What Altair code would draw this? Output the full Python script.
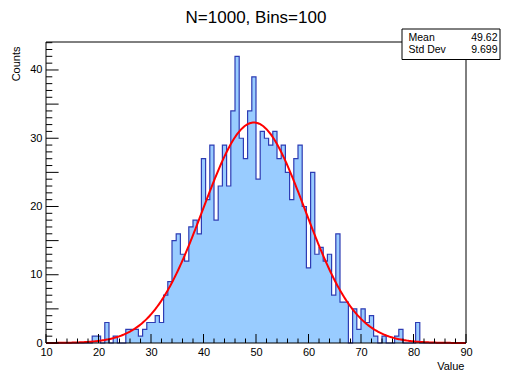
import altair as alt
import pandas as pd

# ---- data ----
X_MIN, X_MAX, N_BINS = 10, 90, 100
counts = (
    [0] * 11
    + [1, 1, 0, 3, 0, 1, 0, 0]
    + [2, 2, 2, 1, 2, 3, 3, 4, 3, 7]
    + [9, 15, 16, 13, 12, 17, 18, 16, 27, 21]
    + [29, 18, 23, 29, 23, 34, 42, 30, 27, 34]
    + [39, 24, 31, 30, 29, 31, 27, 29, 25, 21]
    + [27, 29, 20, 11, 25, 13, 14, 12, 13, 7]
    + [16, 6, 6, 0, 5, 2, 5, 3, 4, 1]
    + [0, 1, 0, 0, 1, 2, 0, 0, 0, 3]
    + [0] * 11
)
Y_MAX = 44.1
x_major = [10, 20, 30, 40, 50, 60, 70, 80, 90]
x_minor = [v for v in range(12, 90, 2) if v % 10 != 0]
y_major = [0, 5, 10, 15, 20, 25, 30, 35, 40]
y_minor = [v for v in range(1, 45) if v % 5 != 0]
fit_const, fit_mean, fit_sigma = 32.3, 49.6, 9.7
stat_names = ["Mean", "Std Dev"]
stat_values = ["49.62", "9.699"]
title_text = "N=1000, Bins=100"
x_title, y_title = "Value", "Counts"

# ---- build tables ----
bw = (X_MAX - X_MIN) / N_BINS
edges = [X_MIN + i * bw for i in range(N_BINS)]
step_df = pd.DataFrame({"x": edges + [X_MAX], "c": counts + [counts[-1]]})

W, H = 420, 301
FONT = "Liberation Sans"
FILL = "#99ccff"
LINE = "#2e3cb4"

xs = alt.Scale(domain=[X_MIN, X_MAX], nice=False, zero=False)
ys = alt.Scale(domain=[0, Y_MAX], nice=False, zero=False)

x_axis = alt.Axis(
    values=x_major, ticks=False, domain=False, grid=False, format="d",
    labelFont=FONT, labelFontSize=11, labelColor="black", labelPadding=3,
    labelFlush=False, labelOverlap=False,
    title=x_title, titleFont=FONT, titleFontSize=11, titleFontWeight="normal",
    titleColor="black", titleAlign="right", titleAnchor="end",
    titleX=W - 2, titleY=26, titleBaseline="alphabetic",
)
y_axis = alt.Axis(
    values=y_major, ticks=False, domain=False, grid=False, format="d",
    labelFont=FONT, labelFontSize=11, labelColor="black", labelPadding=4,
    labelOverlap=False,
    title=y_title, titleFont=FONT, titleFontSize=11, titleFontWeight="normal",
    titleColor="black", titleAngle=270, titleAlign="right", titleAnchor="end",
    titleX=-27, titleY=4, titleBaseline="alphabetic",
)

fill = alt.Chart(step_df).mark_area(interpolate="step-after", color=FILL).encode(
    x=alt.X("x:Q", scale=xs, axis=x_axis),
    y=alt.Y("c:Q", scale=ys, axis=y_axis),
)
outline = alt.Chart(step_df).mark_line(
    interpolate="step-after", color=LINE, strokeWidth=1.2
).encode(x=alt.X("x:Q", scale=xs), y=alt.Y("c:Q", scale=ys))

fit = (
    alt.Chart(alt.sequence(X_MIN, X_MAX + 0.01, 0.2, as_="fx"))
    .transform_calculate(
        fy=f"{fit_const}*exp(-0.5*pow((datum.fx-{fit_mean})/{fit_sigma},2))"
    )
    .mark_line(color="#ff0000", strokeWidth=2)
    .encode(x=alt.X("fx:Q", scale=xs), y=alt.Y("fy:Q", scale=ys))
)

def xticks(vals, length):
    return alt.Chart(pd.DataFrame({"v": vals})).mark_rule(color="black", strokeWidth=1).encode(
        x=alt.X("v:Q", scale=xs), y=alt.value(H), y2=alt.value(H - length)
    )

def yticks(vals, length):
    return alt.Chart(pd.DataFrame({"v": vals})).mark_rule(color="black", strokeWidth=1).encode(
        y=alt.Y("v:Q", scale=ys), x=alt.value(0), x2=alt.value(length)
    )

ticks = [xticks(x_major, 9), xticks(x_minor, 4.5), yticks(y_major, 12.6), yticks(y_minor, 6.3)]

# frame drawn on top of the histogram
frame = alt.Chart(pd.DataFrame({"f": [1]})).mark_rect(
    fill=None, stroke="black", strokeWidth=1
).encode(x=alt.value(0), x2=alt.value(W), y=alt.value(0), y2=alt.value(H))

title = alt.Chart(pd.DataFrame({"t": [title_text]})).mark_text(
    font=FONT, fontSize=17, color="black", align="center", baseline="alphabetic"
).encode(text="t:N", x=alt.value(W / 2), y=alt.value(-18.7))

box = alt.Chart(pd.DataFrame({"b": [1]})).mark_rect(
    fill="white", stroke="black", strokeWidth=1
).encode(x=alt.value(356), x2=alt.value(454), y=alt.value(-13), y2=alt.value(17.5))

stat_layers = []
for i, (n, v) in enumerate(zip(stat_names, stat_values)):
    d = pd.DataFrame({"n": [n], "v": [v]})
    stat_layers.append(
        alt.Chart(d).mark_text(font=FONT, fontSize=10.5, color="black", align="left",
                               baseline="alphabetic")
        .encode(text="n:N", x=alt.value(362.5), y=alt.value(-1.3 + i * 12.7))
    )
    stat_layers.append(
        alt.Chart(d).mark_text(font=FONT, fontSize=10.5, color="black", align="right",
                               baseline="alphabetic")
        .encode(text="v:N", x=alt.value(451.5), y=alt.value(-1.3 + i * 12.7))
    )

chart = alt.layer(fill, outline, fit, *ticks, frame, title, box, *stat_layers).properties(
    width=W, height=H,
    background="white",
    padding={"left": 38, "top": 34, "right": 35, "bottom": 30},
    autosize=alt.AutoSizeParams(type="none"),
).configure_view(stroke=None)

chart.save("out.html", embed_options={"renderer": "svg", "actions": False})
